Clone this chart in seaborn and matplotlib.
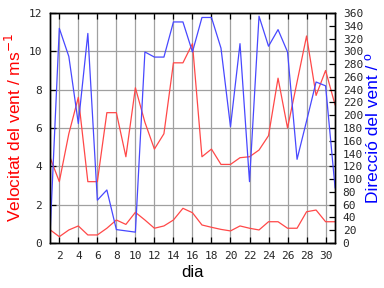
import matplotlib
matplotlib.use("Agg")
import matplotlib.pyplot as plt
import seaborn as sns
import pandas as pd

days = list(range(1, 32))
vel_max = [4.5, 3.2, 5.7, 7.6, 3.2, 3.2, 6.8, 6.8, 4.5, 8.1, 6.3, 4.9, 5.7, 9.4, 9.4, 10.4,
           4.5, 4.9, 4.1, 4.1, 4.45, 4.5, 4.85, 5.6, 8.6, 6.0, 8.4, 10.8, 7.7, 9.0, 7.2]
vel_min = [0.7, 0.33, 0.68, 0.89, 0.42, 0.42, 0.77, 1.2, 0.97, 1.6, 1.2, 0.77, 0.89, 1.2, 1.81, 1.58,
           0.94, 0.82, 0.71, 0.63, 0.89, 0.77, 0.68, 1.11, 1.11, 0.77, 0.77, 1.63, 1.72, 1.11, 1.11]
direccio = [5, 336, 292, 187, 328, 67, 83, 21, 19, 17, 299, 291, 291, 346, 346, 299,
            353, 353, 305, 182, 312, 96, 355, 308, 334, 299, 131, 191, 252, 246, 86]

df = pd.DataFrame({"dia": days, "vmax": vel_max, "vmin": vel_min, "dir": direccio})

sns.set_style("white")
plt.rcParams['font.family'] = ['Liberation Sans', 'DejaVu Sans']

fig = plt.figure(figsize=(3.84, 2.88), dpi=100)
ax = fig.add_axes([49.8/384, 1-243/288, (335.1-49.8)/384, (243-13)/288])
ax2 = ax.twinx()

red = '#ff4848'
blue = '#4848ff'
sns.lineplot(data=df, x="dia", y="vmax", ax=ax, color=red, lw=0.9)
sns.lineplot(data=df, x="dia", y="vmin", ax=ax, color=red, lw=0.9)
sns.lineplot(data=df, x="dia", y="dir", ax=ax2, color=blue, lw=0.9)

ax.set_xlim(1, 31)
ax.set_ylim(0, 12)
ax2.set_ylim(0, 360)
ax.set_xticks(range(2, 31, 2))
ax.set_yticks(range(0, 13, 2))
ax2.set_yticks(range(0, 361, 20))
ax.grid(True, color='#a0a0a0', lw=0.9)
ax.set_axisbelow(True)
ax2.grid(False)

ax.tick_params(axis='both', direction='in', length=4, width=0.9, color='black', pad=5.5,
               top=True, bottom=True, left=True, right=False, labelsize=8)
ax2.tick_params(axis='y', direction='in', length=4, width=0.9, color='black', pad=5.5,
                right=True, left=False, labelsize=8)
for lab in ax.get_xticklabels() + ax.get_yticklabels() + ax2.get_yticklabels():
    lab.set_fontfamily('DejaVu Sans Mono')
    lab.set_fontsize(8)

for a in (ax, ax2):
    for s in a.spines.values():
        s.set_color('black')
        s.set_linewidth(1.0)

ax.set_xlabel("dia", fontsize=12, color='black', labelpad=3)
ax.set_ylabel("Velocitat del vent / ms$^{-1}$", fontsize=12.5, color='#ff0000', labelpad=3)
ax2.set_ylabel("Direcció del vent / º", fontsize=12.5, color='#0000ff', labelpad=2)

fig.savefig("out.png", dpi=100)
